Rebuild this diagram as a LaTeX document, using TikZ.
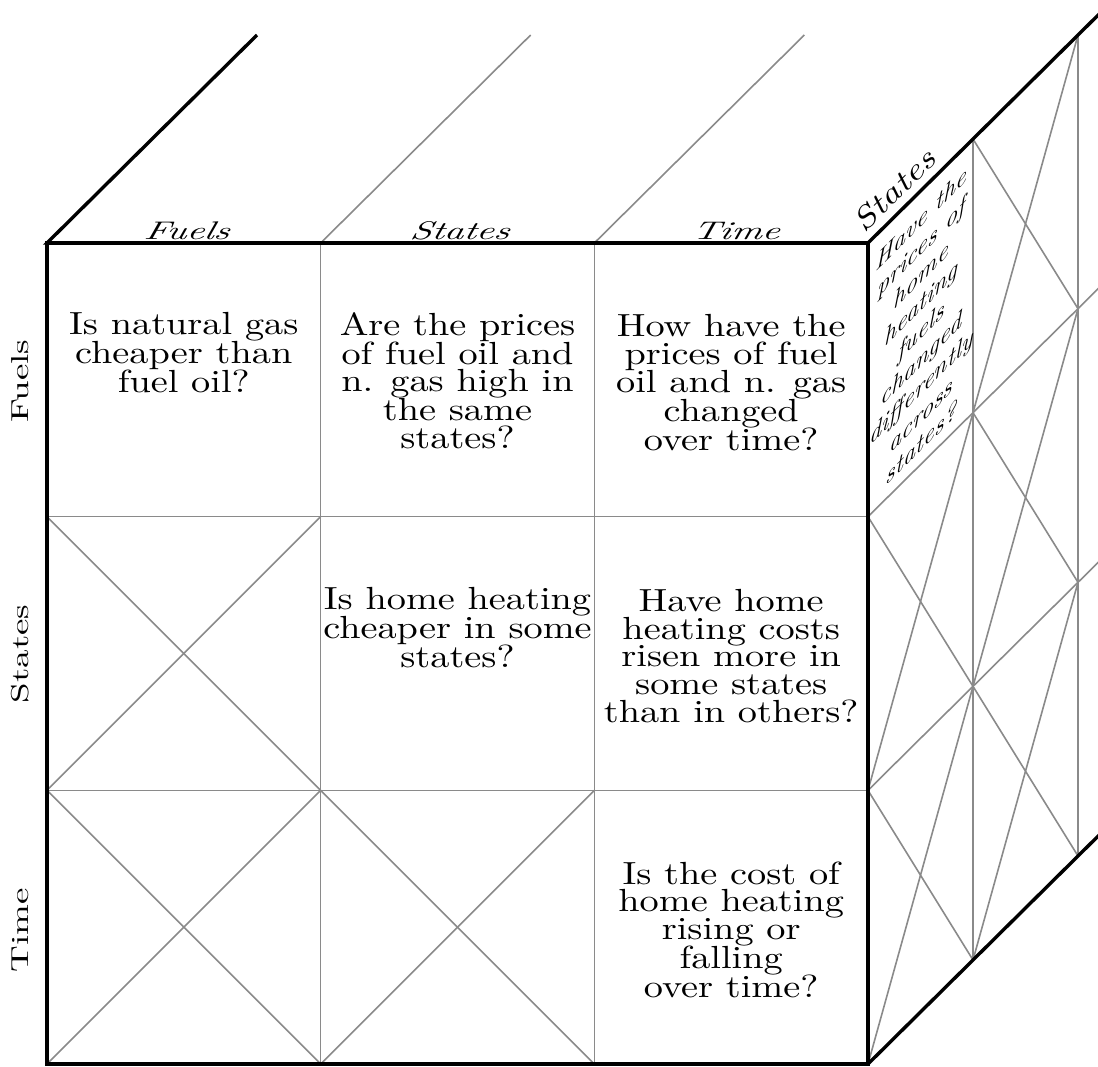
\documentclass[tikz,border=0pt]{standalone}
\tikzset{
  thickline/.style={line width=3.4pt, black},
  gridline/.style={line width=1.6pt, black!46},
  fronttext/.style={cm={3.83,0,0,3.2,(0,0)}, inner sep=0pt, align=center, anchor=north,
    font={\fontsize{10}{8.6}\selectfont\lineskip=0pt\relax}},
  sidetext/.style={cm={2.37,2.35,0,2.4,(0,0)}, inner sep=0pt, align=center, anchor=center,
    font={\itshape\fontsize{10}{11.67}\selectfont\lineskip=0pt\relax}},
  toplabel/.style={cm={3.8,0,0.5,2.55,(0,0)}, inner sep=0pt, anchor=base,
    font=\itshape\fontsize{10}{12}\selectfont},
  leftlabel/.style={cm={0,3.7,-2.45,0,(0,0)}, inner sep=0pt, anchor=base,
    font=\fontsize{10}{12}\selectfont},
  edgelabel/.style={cm={2.8,2.77,-2.1,2.12,(0,0)}, inner sep=0pt, anchor=center,
    font=\itshape\fontsize{10}{12}\selectfont}
}
\begin{document}
\begin{tikzpicture}[x=1pt,y=-1pt]
\useasboundingbox (0,0) rectangle (1098,1066);
\clip (0,0) rectangle (1098,1066);
\def\s{273.667}
% front grid
\foreach \i in {1,2} {
  \draw[gridline] ({47+\i*\s},243) -- ({47+\i*\s},1064);
  \draw[gridline] (47,{243+\i*\s}) -- (868,{243+\i*\s});
}
\foreach \c/\r in {0/1,0/2,1/2} {
  \draw[gridline] ({47+\c*\s},{243+\r*\s}) -- ({47+(\c+1)*\s},{243+(\r+1)*\s});
  \draw[gridline] ({47+\c*\s},{243+(\r+1)*\s}) -- ({47+(\c+1)*\s},{243+\r*\s});
}
% top face
\draw[gridline] ({47+\s},243) -- ++(210,-208);
\draw[gridline] ({47+2*\s},243) -- ++(210,-208);
% side face
\foreach \k in {1,2} \draw[gridline] ({868+105*\k},{243-104*\k}) -- ++(0,821);
\foreach \r in {1,2} \draw[gridline] (868,{243+\r*\s}) -- ++(315,-312);
\foreach \r/\k in {0/1,1/0,1/1,2/0,2/1} {
  \draw[gridline] ({868+105*\k},{243+\r*\s-104*\k}) -- ({868+105*(\k+1)},{243+(\r+1)*\s-104*(\k+1)});
  \draw[gridline] ({868+105*\k},{243+(\r+1)*\s-104*\k}) -- ({868+105*(\k+1)},{243+\r*\s-104*(\k+1)});
}
% thick outline
\draw[thickline] (257,35) -- (47,243) -- (868,243);
\draw[thickline] (47,243) rectangle (868,1064);
\draw[thickline] (868,243) -- ++(315,-312);
\draw[thickline] (868,1064) -- ++(315,-312);
% front texts
\node[fronttext] (q00) at (183.8,312) {Is natural gas\\cheaper than\\fuel oil?};
\node[fronttext] (q01) at (457.5,312) {Are the prices\\of fuel oil and\\n. gas high in\\the same\\states?};
\node[fronttext] (q02) at (731.2,314) {How have the\\prices of fuel\\oil and n. gas\\changed\\over time?};
\node[fronttext] (q11) at (457.5,587) {Is home heating\\cheaper in some\\states?};
\node[fronttext] (q12) at (731.2,589) {Have home\\heating costs\\risen more in\\some states\\than in others?};
\node[fronttext] (q22) at (731.2,861) {Is the cost of\\home heating\\rising or\\falling\\over time?};
% side text
\node[sidetext] (qs) at (921,331) {Have the\\prices of\\home\\heating\\fuels\\changed\\differently\\across\\states?};
% labels
\node[toplabel] (tf) at (186,239.5) {Fuels};
\node[toplabel] (ts) at (459,239.5) {States};
\node[toplabel] (tt) at (735,239.5) {Time};
\node[leftlabel] (lf) at (28.5,381) {Fuels};
\node[leftlabel] (ls) at (28.5,654) {States};
\node[leftlabel] (lt) at (28.5,930) {Time};
\node[edgelabel] (es) at (894,190) {States};
\end{tikzpicture}
\end{document}
